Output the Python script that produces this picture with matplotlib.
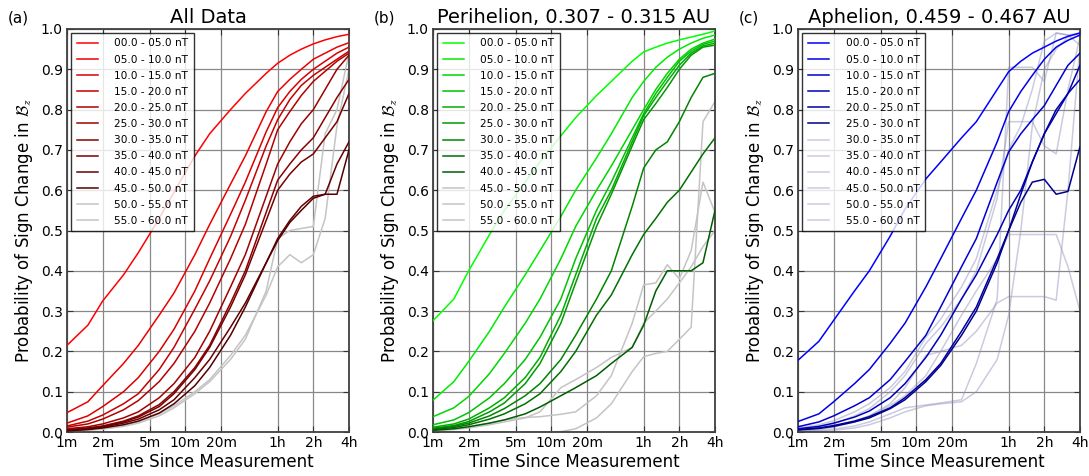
import numpy as np
import matplotlib
matplotlib.use('Agg')
import matplotlib.pyplot as plt

plt.rcParams['mathtext.fontset'] = 'cm'

# lag times in minutes
minutes = [1, 1.5, 2, 3, 4, 6, 8, 12, 16, 24, 32, 48, 60, 76, 95, 120, 151, 190, 240]
tick_minutes = [1, 2, 5, 10, 20, 60, 120, 240]
tick_labels = ['1m', '2m', '5m', '10m', '20m', '1h', '2h', '4h']
bins = ['00.0 - 05.0 nT', '05.0 - 10.0 nT', '10.0 - 15.0 nT', '15.0 - 20.0 nT',
        '20.0 - 25.0 nT', '25.0 - 30.0 nT', '30.0 - 35.0 nT', '35.0 - 40.0 nT',
        '40.0 - 45.0 nT', '45.0 - 50.0 nT', '50.0 - 55.0 nT', '55.0 - 60.0 nT']

all_data = [
    [0.215, 0.265, 0.325, 0.39, 0.445, 0.53, 0.595, 0.685, 0.74, 0.80, 0.84, 0.89, 0.915, 0.935, 0.95, 0.963, 0.973, 0.981, 0.987],
    [0.048, 0.075, 0.115, 0.17, 0.215, 0.29, 0.345, 0.44, 0.515, 0.615, 0.685, 0.795, 0.845, 0.875, 0.90, 0.925, 0.94, 0.955, 0.966],
    [0.022, 0.04, 0.063, 0.10, 0.135, 0.20, 0.255, 0.35, 0.43, 0.54, 0.62, 0.745, 0.805, 0.845, 0.875, 0.90, 0.92, 0.94, 0.955],
    [0.015, 0.027, 0.042, 0.07, 0.095, 0.155, 0.21, 0.305, 0.375, 0.485, 0.575, 0.71, 0.775, 0.825, 0.86, 0.885, 0.905, 0.925, 0.945],
    [0.012, 0.02, 0.032, 0.055, 0.078, 0.125, 0.17, 0.25, 0.32, 0.43, 0.515, 0.665, 0.75, 0.795, 0.835, 0.87, 0.895, 0.92, 0.94],
    [0.008, 0.013, 0.02, 0.035, 0.05, 0.085, 0.12, 0.185, 0.25, 0.36, 0.44, 0.585, 0.665, 0.72, 0.765, 0.80, 0.85, 0.90, 0.935],
    [0.006, 0.01, 0.015, 0.027, 0.04, 0.068, 0.10, 0.16, 0.215, 0.32, 0.40, 0.545, 0.625, 0.665, 0.70, 0.73, 0.78, 0.83, 0.875],
    [0.005, 0.009, 0.014, 0.025, 0.037, 0.063, 0.095, 0.155, 0.21, 0.31, 0.39, 0.525, 0.60, 0.64, 0.67, 0.69, 0.73, 0.77, 0.84],
    [0.004, 0.007, 0.012, 0.022, 0.032, 0.055, 0.08, 0.135, 0.18, 0.26, 0.32, 0.42, 0.48, 0.525, 0.56, 0.585, 0.59, 0.665, 0.72],
    [0.003, 0.006, 0.01, 0.018, 0.027, 0.047, 0.07, 0.115, 0.16, 0.24, 0.31, 0.42, 0.475, 0.52, 0.55, 0.58, 0.59, 0.59, 0.70],
    [0.003, 0.005, 0.009, 0.017, 0.025, 0.045, 0.065, 0.10, 0.13, 0.19, 0.24, 0.34, 0.41, 0.44, 0.42, 0.44, 0.53, 0.76, 0.90],
    [0.002, 0.004, 0.007, 0.014, 0.022, 0.04, 0.06, 0.095, 0.125, 0.18, 0.23, 0.35, 0.48, 0.50, 0.505, 0.51, 0.74, 0.80, 0.94],
]

perihelion = [
    [0.276, 0.33, 0.40, 0.49, 0.55, 0.62, 0.67, 0.735, 0.78, 0.835, 0.87, 0.92, 0.943, 0.955, 0.965, 0.973, 0.98, 0.987, 0.995],
    [0.079, 0.125, 0.175, 0.25, 0.31, 0.39, 0.45, 0.535, 0.60, 0.68, 0.74, 0.83, 0.87, 0.905, 0.93, 0.95, 0.965, 0.977, 0.985],
    [0.038, 0.06, 0.088, 0.145, 0.195, 0.27, 0.33, 0.43, 0.51, 0.60, 0.66, 0.75, 0.80, 0.85, 0.89, 0.925, 0.95, 0.965, 0.975],
    [0.018, 0.03, 0.048, 0.085, 0.12, 0.18, 0.235, 0.33, 0.43, 0.55, 0.62, 0.73, 0.79, 0.84, 0.88, 0.92, 0.945, 0.962, 0.97],
    [0.012, 0.02, 0.032, 0.06, 0.085, 0.135, 0.185, 0.29, 0.39, 0.53, 0.60, 0.72, 0.785, 0.83, 0.87, 0.91, 0.94, 0.958, 0.965],
    [0.009, 0.016, 0.026, 0.05, 0.072, 0.12, 0.17, 0.27, 0.37, 0.51, 0.59, 0.71, 0.775, 0.815, 0.855, 0.90, 0.935, 0.955, 0.96],
    [0.008, 0.014, 0.022, 0.04, 0.058, 0.09, 0.12, 0.18, 0.24, 0.33, 0.40, 0.56, 0.655, 0.70, 0.72, 0.77, 0.83, 0.88, 0.89],
    [0.006, 0.011, 0.018, 0.032, 0.045, 0.07, 0.095, 0.15, 0.20, 0.29, 0.34, 0.44, 0.49, 0.53, 0.57, 0.60, 0.645, 0.69, 0.73],
    [0.004, 0.008, 0.013, 0.022, 0.03, 0.045, 0.062, 0.09, 0.11, 0.14, 0.17, 0.21, 0.265, 0.35, 0.40, 0.40, 0.40, 0.42, 0.55],
    [0.004, 0.008, 0.013, 0.022, 0.03, 0.036, 0.038, 0.044, 0.05, 0.09, 0.14, 0.27, 0.365, 0.37, 0.415, 0.38, 0.45, 0.62, 0.545],
    [0.003, 0.006, 0.01, 0.018, 0.025, 0.035, 0.05, 0.11, 0.13, 0.16, 0.185, 0.21, 0.27, 0.30, 0.33, 0.37, 0.41, 0.46, 0.50],
    [0.0, 0.0, 0.0, 0.0, 0.0, 0.0, 0.0, 0.001, 0.008, 0.035, 0.07, 0.15, 0.187, 0.195, 0.20, 0.23, 0.26, 0.77, 0.82],
]

aphelion = [
    [0.178, 0.225, 0.277, 0.35, 0.40, 0.486, 0.553, 0.628, 0.67, 0.73, 0.77, 0.85, 0.894, 0.92, 0.94, 0.955, 0.97, 0.982, 0.99],
    [0.026, 0.045, 0.075, 0.12, 0.155, 0.22, 0.27, 0.36, 0.43, 0.53, 0.60, 0.72, 0.795, 0.845, 0.885, 0.925, 0.955, 0.972, 0.985],
    [0.013, 0.025, 0.04, 0.065, 0.085, 0.13, 0.175, 0.24, 0.31, 0.41, 0.48, 0.62, 0.695, 0.74, 0.775, 0.81, 0.86, 0.91, 0.94],
    [0.008, 0.014, 0.022, 0.037, 0.052, 0.085, 0.12, 0.185, 0.24, 0.33, 0.39, 0.49, 0.55, 0.60, 0.67, 0.74, 0.79, 0.84, 0.875],
    [0.006, 0.01, 0.016, 0.027, 0.038, 0.06, 0.085, 0.13, 0.17, 0.25, 0.31, 0.43, 0.50, 0.59, 0.67, 0.74, 0.80, 0.84, 0.91],
    [0.005, 0.009, 0.014, 0.025, 0.035, 0.058, 0.08, 0.125, 0.165, 0.24, 0.30, 0.42, 0.50, 0.57, 0.62, 0.627, 0.59, 0.597, 0.708],
    [0.01, 0.018, 0.028, 0.05, 0.07, 0.11, 0.15, 0.235, 0.28, 0.36, 0.43, 0.60, 0.70, 0.76, 0.85, 0.97, 0.99, 0.985, 0.96],
    [0.006, 0.012, 0.02, 0.04, 0.058, 0.10, 0.14, 0.22, 0.26, 0.33, 0.40, 0.58, 0.77, 0.77, 0.77, 0.71, 0.69, 0.85, 0.98],
    [0.004, 0.008, 0.014, 0.028, 0.04, 0.065, 0.09, 0.14, 0.20, 0.29, 0.35, 0.43, 0.49, 0.49, 0.49, 0.49, 0.49, 0.41, 0.30],
    [0.003, 0.006, 0.012, 0.025, 0.04, 0.07, 0.11, 0.19, 0.20, 0.215, 0.25, 0.32, 0.336, 0.336, 0.336, 0.336, 0.327, 0.60, 0.96],
    [0.002, 0.004, 0.007, 0.015, 0.025, 0.045, 0.06, 0.067, 0.072, 0.08, 0.17, 0.33, 0.905, 0.905, 0.905, 0.87, 0.99, 0.985, 0.99],
    [0.001, 0.002, 0.004, 0.01, 0.018, 0.035, 0.05, 0.065, 0.07, 0.075, 0.10, 0.18, 0.29, 0.50, 0.76, 0.90, 0.95, 0.98, 0.99],
]

# colours: shade of main colour per bin, light gray for sparse bins
reds = [(1 - 0.075 * i, 0, 0) for i in range(10)] + ['#c4c4c4'] * 2
greens = [(0, 1 - 0.08 * i, 0) for i in range(9)] + ['#c4c4c4'] * 3
blues = [(0, 0, 1 - 0.09 * i) for i in range(6)] + [(0.55, 0.55, 0.72, 0.45)] * 6

panels = [
    ('(a)', 'All Data', all_data, reds),
    ('(b)', 'Perihelion, 0.307 - 0.315 AU', perihelion, greens),
    ('(c)', 'Aphelion, 0.459 - 0.467 AU', aphelion, blues),
]

fig = plt.figure(figsize=(10.89, 4.76), dpi=100)
lefts = [67, 433, 798]

for (tag, title, series, colors), left in zip(panels, lefts):
    ax = fig.add_axes([left / 1089, 44 / 476, 282 / 1089, 403 / 476])
    for vals, col, lab in zip(series, colors, bins):
        gray = isinstance(col, str) or len(col) == 4
        ax.plot(minutes, vals, color=col, lw=1.1, label=lab, zorder=2 if gray else 3)
    ax.set_xscale('log')
    ax.set_xlim(1, 240)
    ax.set_ylim(0, 1)
    ax.set_xticks(tick_minutes)
    ax.set_xticklabels(tick_labels)
    ax.xaxis.set_minor_locator(matplotlib.ticker.NullLocator())
    ax.set_yticks(np.arange(0, 1.01, 0.1))
    ax.set_yticklabels(['%.1f' % v for v in np.arange(0, 1.01, 0.1)])
    ax.tick_params(direction='in', top=True, right=True, length=4, labelsize=10,
                   color='0.2', pad=3)
    ax.grid(True, color='#888888', lw=0.9, ls='-', zorder=0)
    ax.set_axisbelow(True)
    for s in ax.spines.values():
        s.set_linewidth(1.3)
        s.set_color('0.25')
    ax.set_title(title, fontsize=14, pad=4)
    ax.set_xlabel('Time Since Measurement', fontsize=12, labelpad=2)
    ax.set_ylabel(r'Probability of Sign Change in $\mathcal{B}_z$', fontsize=12, labelpad=4)
    leg = ax.legend(loc='upper left', fontsize=7.6, frameon=True, fancybox=False,
                    edgecolor='black', handlelength=2.0, labelspacing=0.58,
                    borderpad=0.5, handletextpad=1.6, borderaxespad=0.4)
    leg.get_frame().set_linewidth(1.0)
    fig.text((left - 59) / 1089, 1 - 18 / 476, tag, fontsize=11, va='center')

fig.savefig('out.png', dpi=100)
